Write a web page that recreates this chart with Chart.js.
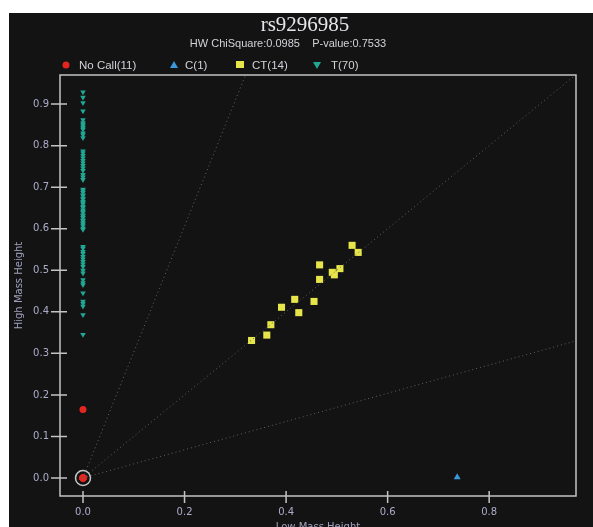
<!DOCTYPE html>
<html>
<head>
<meta charset="utf-8">
<script src="https://cdn.jsdelivr.net/npm/chart.js@4.4.1/dist/chart.umd.min.js"></script>
<style>
  html, body { margin:0; padding:0; background:#fff; }
  #wrap { position:absolute; left:9px; top:13px; width:584px; height:514px; background:#131314; }
</style>
</head>
<body>
<div id="wrap"><canvas id="c"></canvas></div>
<script>
// genotype call plot for rs9296985
const TITLE = 'rs9296985';
const SUBTITLE = 'HW ChiSquare:0.0985    P-value:0.7533';
const xTicks = [0.0, 0.2, 0.4, 0.6, 0.8];
const yTicks = [0.0, 0.1, 0.2, 0.3, 0.4, 0.5, 0.6, 0.7, 0.8, 0.9];

// No Call (11)
const noCallX = [0, 0, 0, 0, 0, 0, 0, 0, 0, 0, 0];
const noCallY = [0.165, 0, 0, 0, 0, 0, 0, 0, 0, 0, 0];
// C (1)
const cX = [0.737];
const cY = [0.002];
// CT (14)
const ctX = [0.332, 0.362, 0.370, 0.391, 0.417, 0.425, 0.455, 0.466, 0.466, 0.491, 0.495, 0.506, 0.530, 0.542];
const ctY = [0.331, 0.344, 0.369, 0.411, 0.430, 0.398, 0.425, 0.478, 0.513, 0.495, 0.489, 0.504, 0.560, 0.543];
// T (70) - all on the x = 0 column
const tY = [0.929, 0.916, 0.903, 0.883,
  0.862, 0.855, 0.851, 0.847, 0.843, 0.839, 0.830, 0.826, 0.819,
  0.787, 0.782, 0.776, 0.770, 0.764, 0.758, 0.752, 0.746, 0.740, 0.730, 0.724, 0.718,
  0.695, 0.691, 0.687, 0.681, 0.679, 0.673, 0.671, 0.665, 0.662, 0.659, 0.653, 0.651, 0.645,
  0.642, 0.639, 0.633, 0.631, 0.627, 0.621, 0.619, 0.614, 0.611, 0.607, 0.601, 0.598,
  0.557, 0.553, 0.545, 0.540, 0.533, 0.527, 0.521, 0.515, 0.509, 0.500, 0.493,
  0.477, 0.470, 0.465, 0.445, 0.425, 0.420, 0.413, 0.393, 0.345];
const tX = tY.map(() => 0);
// dotted guide lines from the origin
const guideEnds = [[0.33, 1.0], [1.0, 1.0], [1.0, 0.34]];

const COL = { nocall:'#e3261f', c:'#3a98dc', ct:'#e6e64a', t:'#22a795', axis:'#c4c4c4', tick:'#acacca', text:'#d2d2d8' };

function pts(xs, ys){ return xs.map((x,i)=>({x, y: ys[i]})); }

const datasets = guideEnds.map(e => ({
  label: 'guide', data: [{x:0,y:0},{x:e[0],y:e[1]}], showLine:true, pointRadius:0,
  borderColor:'#636368', borderWidth:1, borderDash:[1,3], fill:false
}));
datasets.push(
  { label:'T(70)', data: pts(tX, tY), pointStyle:'triangle', rotation:180, pointRadius:3.2, backgroundColor:COL.t, borderColor:COL.t, borderWidth:0 },
  { label:'CT(14)', data: pts(ctX, ctY), pointStyle:'rect', pointRadius:5, backgroundColor:COL.ct, borderColor:COL.ct, borderWidth:0 },
  { label:'C(1)', data: pts(cX, cY), pointStyle:'triangle', pointRadius:4, backgroundColor:COL.c, borderColor:COL.c, borderWidth:0 },
  { label:'No Call(11)', data: pts(noCallX, noCallY), pointStyle:'circle', pointRadius:3.5, backgroundColor:COL.nocall, borderColor:COL.nocall, borderWidth:0 },
  { label:'sel', data: [{x:0,y:0}], pointStyle:'circle', pointRadius:7.5, backgroundColor:'rgba(0,0,0,0)', borderColor:'#c8c8c8', borderWidth:1.5 }
);

// title, legend, frame, ticks crossing the axes
const decor = {
  id:'decor',
  afterDraw(chart){
    const ctx = chart.ctx, a = chart.chartArea;
    ctx.save();
    ctx.fillStyle = '#e6e6ea';
    ctx.font = '21px "Liberation Serif", serif';
    ctx.textAlign = 'center'; ctx.textBaseline = 'alphabetic';
    ctx.fillText(TITLE, 296, 18);
    ctx.fillStyle = COL.text;
    ctx.font = '11px "Liberation Sans", Arial, sans-serif';
    ctx.textBaseline = 'middle';
    ctx.fillText(SUBTITLE, 279, 31);

    // legend
    const ly = 52;
    ctx.textAlign = 'left';
    ctx.font = '11.5px "Liberation Sans", Arial, sans-serif';
    ctx.fillStyle = COL.nocall; ctx.beginPath(); ctx.arc(57, ly, 3.5, 0, Math.PI*2); ctx.fill();
    ctx.fillStyle = COL.text; ctx.fillText('No Call(11)', 70, ly+1);
    ctx.fillStyle = COL.c; ctx.beginPath(); ctx.moveTo(165, ly-4); ctx.lineTo(169, ly+3); ctx.lineTo(161, ly+3); ctx.closePath(); ctx.fill();
    ctx.fillStyle = COL.text; ctx.fillText('C(1)', 176, ly+1);
    ctx.fillStyle = COL.ct; ctx.fillRect(227, ly-4, 8, 7);
    ctx.fillStyle = COL.text; ctx.fillText('CT(14)', 243, ly+1);
    ctx.fillStyle = COL.t; ctx.beginPath(); ctx.moveTo(304, ly-3); ctx.lineTo(312, ly-3); ctx.lineTo(308, ly+4); ctx.closePath(); ctx.fill();
    ctx.fillStyle = COL.text; ctx.fillText('T(70)', 322, ly+1);

    // frame
    ctx.strokeStyle = COL.axis; ctx.lineWidth = 1.5;
    ctx.strokeRect(a.left, a.top, a.right - a.left, a.bottom - a.top);
    // ticks
    const xs = chart.scales.x, ys = chart.scales.y;
    ctx.lineWidth = 1.5;
    ctx.beginPath();
    xTicks.forEach(v => { const px = xs.getPixelForValue(v); ctx.moveTo(px, a.bottom - 5); ctx.lineTo(px, a.bottom + 7); });
    yTicks.forEach(v => { const py = ys.getPixelForValue(v); ctx.moveTo(a.left - 9, py); ctx.lineTo(a.left + 7, py); });
    ctx.stroke();
    ctx.restore();
  }
};

new Chart(document.getElementById('c'), {
  type:'scatter',
  data:{ datasets },
  options:{
    responsive:true, maintainAspectRatio:false, animation:false,
    layout:{ padding:{ left:0, right:17, top:62, bottom:0 } },
    plugins:{ legend:{ display:false }, title:{ display:false }, tooltip:{ enabled:false } },
    scales:{
      x:{
        type:'linear', min:-0.0453, max:0.971,
        afterBuildTicks: s => { s.ticks = xTicks.map(v => ({value:v})); },
        afterFit: s => { s.height = 31; },
        grid:{ display:false, drawTicks:false }, border:{ display:false },
        ticks:{ padding:10, color:COL.tick, font:{ family:'"DejaVu Sans", sans-serif', size:10 }, callback: v => Number(v).toFixed(1) },
        title:{ display:true, text:'Low Mass Height', color:'#a0a0be', font:{ family:'"DejaVu Sans", sans-serif', size:10 }, padding:{ top:0, bottom:-6 } }
      },
      y:{
        type:'linear', min:-0.0433, max:0.970,
        afterBuildTicks: s => { s.ticks = yTicks.map(v => ({value:v})); },
        afterFit: s => { s.width = 51; },
        grid:{ display:false, drawTicks:false }, border:{ display:false },
        ticks:{ padding:11, color:COL.tick, font:{ family:'"DejaVu Sans", sans-serif', size:10 }, callback: v => Number(v).toFixed(1) },
        title:{ display:true, text:'High Mass Height', color:'#a0a0be', font:{ family:'"DejaVu Sans", sans-serif', size:10 }, padding:{ top:4, bottom:0 } }
      }
    }
  },
  plugins:[decor]
});
</script>
</body>
</html>
